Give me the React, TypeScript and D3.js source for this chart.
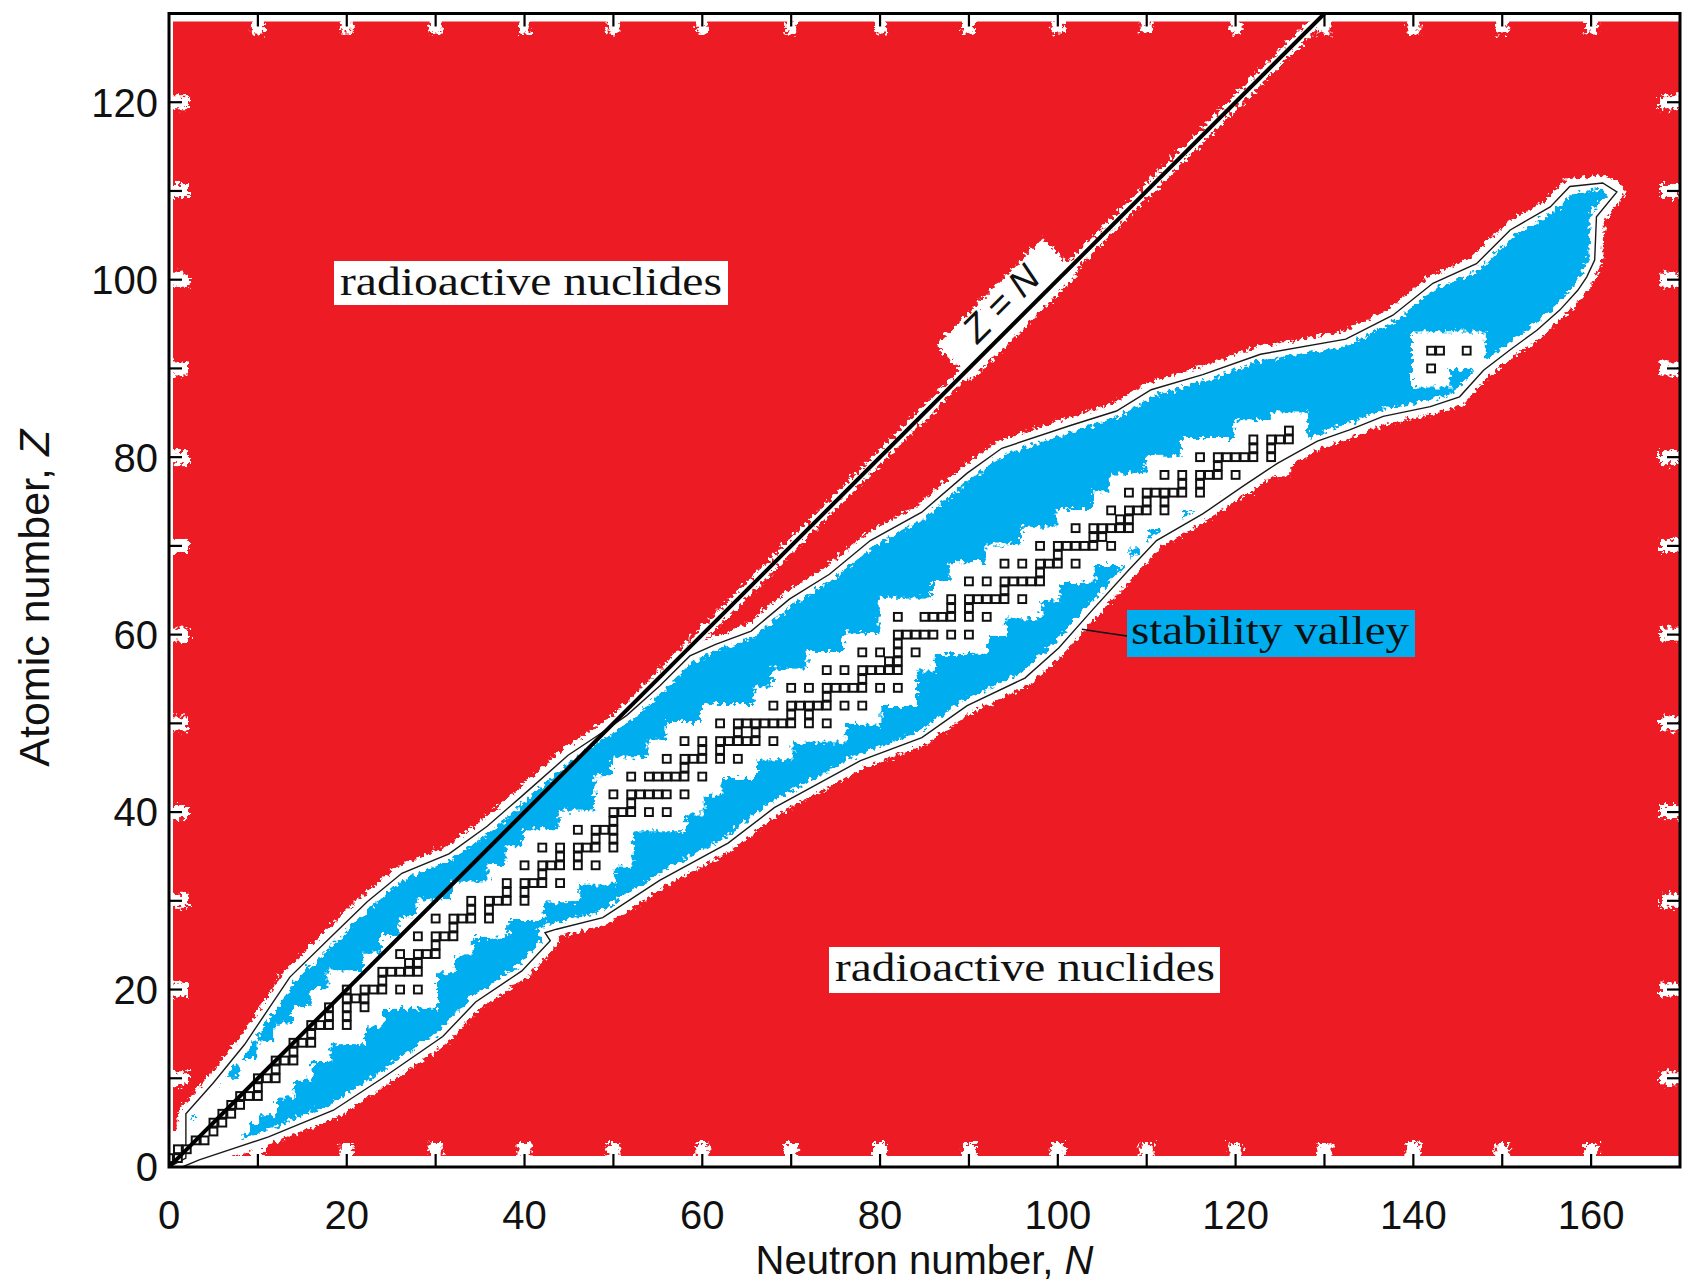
import React from 'react';
import * as d3 from 'd3';

const W = 1683;
const H = 1284;

// Boundary of known nuclides: upper (proton-rich) side, from the origin to the top-right tip
const upperContour: [number, number][] = [
  [0, 0], [1.9, 1], [1.9, 6], [5, 9.5], [8.5, 13.8], [13.6, 21.4], [18.5, 26.2], [22.3, 29.9],
  [26.2, 33.1], [31.5, 35.3], [35.8, 38.4], [39.7, 41.8], [44.9, 46.4], [48.2, 48.6],
  [51.5, 50.9], [55.2, 54.2], [58.6, 57.6], [61.5, 58.9], [65.5, 60.4], [69.8, 64],
  [74.3, 66.8], [78.9, 70.6], [84.7, 73.8], [89.8, 78.2], [93.7, 81], [101.5, 83.6],
  [106.6, 85.2], [110.5, 87.6], [116.3, 89.3], [122.8, 91.6], [132.4, 93.3], [137.7, 96],
  [142.2, 99.6], [147.1, 101.8], [150.9, 105.6], [155.4, 108.2], [157.6, 110.5],
  [161.3, 110.9], [162.9, 109.9],
];

// Lower (neutron-rich) side, from the top-right tip back to the origin
const lowerContour: [number, number][] = [
  [160.6, 107.1], [160.4, 102.2], [159.5, 100.3], [158.5, 98.8], [156.5, 96.6], [153.9, 94.3],
  [150.9, 92.1], [147.9, 89.8], [145.2, 86.8], [141.9, 85.7], [136.6, 84.6], [132.9, 83.1],
  [129.2, 81.8], [124.7, 79.3], [120.8, 76.7], [116.3, 73.6], [111.1, 70.6], [107.9, 67.2],
  [104, 62.9], [100.1, 58.5], [96.3, 55.1], [89.8, 52], [84.7, 48.4], [77.8, 45.8],
  [68.1, 40.5], [62.9, 36.5], [55.2, 32.3], [48.8, 28.1], [43.6, 26.8], [42.3, 26.4],
  [42.9, 25.5], [39.7, 22.1], [34.5, 18.6], [30.8, 14.7], [24, 10], [18.5, 6.4],
  [11.2, 3.4], [3.4, 0.8], [1.5, 0],
];

// Stable (and long-lived natural) nuclides: [Z, neutron numbers]
const stableNuclides: [number, number[]][] = [
  [1, [0, 1]], [2, [1, 2]], [3, [3, 4]], [4, [5]], [5, [5, 6]], [6, [6, 7]], [7, [7, 8]],
  [8, [8, 9, 10]], [9, [10]], [10, [10, 11, 12]], [11, [12]], [12, [12, 13, 14]], [13, [14]],
  [14, [14, 15, 16]], [15, [16]], [16, [16, 17, 18, 20]], [17, [18, 20]], [18, [18, 20, 22]],
  [19, [20, 21, 22]], [20, [20, 22, 23, 24, 26, 28]], [21, [24]], [22, [24, 25, 26, 27, 28]],
  [23, [27, 28]], [24, [26, 28, 29, 30]], [25, [30]], [26, [28, 30, 31, 32]], [27, [32]],
  [28, [30, 32, 33, 34, 36]], [29, [34, 36]], [30, [34, 36, 37, 38, 40]], [31, [38, 40]],
  [32, [38, 40, 41, 42, 44]], [33, [42]], [34, [40, 42, 43, 44, 46, 48]], [35, [44, 46]],
  [36, [42, 44, 46, 47, 48, 50]], [37, [48, 50]], [38, [46, 48, 49, 50]], [39, [50]],
  [40, [50, 51, 52, 54, 56]], [41, [52]], [42, [50, 52, 53, 54, 55, 56, 58]],
  [44, [52, 54, 55, 56, 57, 58, 60]], [45, [58]], [46, [56, 58, 59, 60, 62, 64]],
  [47, [60, 62]], [48, [58, 60, 62, 63, 64, 65, 66, 68]], [49, [64, 66]],
  [50, [62, 64, 65, 66, 67, 68, 69, 70, 72, 74]], [51, [70, 72]],
  [52, [68, 70, 71, 72, 73, 74, 76, 78]], [53, [74]], [54, [70, 72, 74, 75, 76, 77, 78, 80, 82]],
  [55, [78]], [56, [74, 76, 78, 79, 80, 81, 82]], [57, [81, 82]], [58, [78, 80, 82, 84]],
  [59, [82]], [60, [82, 83, 84, 85, 86, 88, 90]], [62, [82, 85, 86, 87, 88, 90, 92]],
  [63, [88, 90]], [64, [88, 90, 91, 92, 93, 94, 96]], [65, [94]],
  [66, [90, 92, 94, 95, 96, 97, 98]], [67, [98]], [68, [94, 96, 98, 99, 100, 102]], [69, [100]],
  [70, [98, 100, 101, 102, 103, 104, 106]], [71, [104, 105]], [72, [102, 104, 105, 106, 107, 108]],
  [73, [107, 108]], [74, [106, 108, 109, 110, 112]], [75, [110, 112]],
  [76, [108, 110, 111, 112, 113, 114, 116]], [77, [114, 116]], [78, [112, 114, 116, 117, 118, 120]],
  [79, [118]], [80, [116, 118, 119, 120, 121, 122, 124]], [81, [122, 124]],
  [82, [122, 124, 125, 126]], [83, [126]], [90, [142]], [92, [142, 143, 146]],
];

const xTicks = d3.range(0, 170, 10);
const yTicks = d3.range(0, 130, 10);
const xTickLabels = [0, 20, 40, 60, 80, 100, 120, 140, 160];
const yTickLabels = [0, 20, 40, 60, 80, 100, 120];

const RED = '#ED1C24';
const BLUE = '#00AEEF';
const SANS = '"Liberation Sans", Arial, Helvetica, sans-serif';
const SERIF = '"Liberation Serif", "Times New Roman", serif';

export default function App() {
  const x = d3.scaleLinear().domain([0, 170]).range([169, 1680]);
  const y = d3.scaleLinear().domain([0, 130]).range([1167, 13.5]);
  const line = d3.line<[number, number]>().x((d) => x(d[0])).y((d) => y(d[1]));
  const contourPath = line([...upperContour, ...lowerContour]) + 'Z';
  const stable = stableNuclides.flatMap(([z, ns]) => ns.map((n) => [n, z] as [number, number]));
  const cellW = x(1) - x(0);
  const cellH = y(0) - y(1);
  const sq = 0.88 * cellW;
  const band = 4.3;

  const left = x(0), right = x(170), top = y(130), bottom = y(0);
  const angle = (-Math.atan2(cellH, cellW) * 180) / Math.PI;
  const lblX = x(93.6), lblY = y(97.3);

  return (
    <svg width={W} height={H} style={{ position: 'absolute', left: 0, top: 0, background: '#fff' }}>
      <defs>
        <filter id="rough" filterUnits="userSpaceOnUse" x={0} y={0} width={W} height={H}>
          <feTurbulence type="fractalNoise" baseFrequency="0.25" numOctaves={2} seed={4} result="noise" />
          <feDisplacementMap in="SourceGraphic" in2="noise" scale={13} xChannelSelector="R" yChannelSelector="G" />
        </filter>
        <filter id="rough2" filterUnits="userSpaceOnUse" x={0} y={0} width={W} height={H}>
          <feTurbulence type="fractalNoise" baseFrequency="0.22" numOctaves={2} seed={9} result="noise" />
          <feDisplacementMap in="SourceGraphic" in2="noise" scale={12} xChannelSelector="R" yChannelSelector="G" />
        </filter>
        <clipPath id="plotClip">
          <rect x={left} y={top} width={right - left} height={bottom - top} />
        </clipPath>
      </defs>

      {/* red background of radioactive nuclides */}
      <rect x={left + 4} y={top + 8} width={right - left - 5} height={bottom - top - 19} fill={RED} />

      <g clipPath="url(#plotClip)">
        {/* outer white fringe */}
        <g filter="url(#rough)">
          <path d={contourPath} fill="#fff" stroke="#fff" strokeWidth={15} strokeLinejoin="round" />
          <line x1={x(0)} y1={y(0)} x2={x(130)} y2={y(130)} stroke="#fff" strokeWidth={11} />
          <rect x={-76} y={-25} width={152} height={50} fill="#fff"
            transform={`translate(${lblX + 6},${lblY + 6}) rotate(${angle})`} />
          {xTicks.filter((t) => t > 0).map((t) => (
            <g key={'xh' + t}>
              <rect x={x(t) - 7} y={bottom - 24} width={14} height={24} fill="#fff" />
              <rect x={x(t) - 6} y={top} width={12} height={20} fill="#fff" />
            </g>
          ))}
          {yTicks.filter((t) => t > 0).map((t) => (
            <g key={'yh' + t}>
              <rect x={left} y={y(t) - 7} width={20} height={14} fill="#fff" />
              <rect x={right - 20} y={y(t) - 7} width={20} height={14} fill="#fff" />
            </g>
          ))}
        </g>

        {/* blue: known radioactive nuclides */}
        <path d={contourPath} fill={BLUE} />

        {/* inner white fringe and white band around stable nuclides */}
        <g filter="url(#rough2)">
          <path d={contourPath} fill="none" stroke="#fff" strokeWidth={13} strokeLinejoin="round" />
          {stable.map(([n, z], i) => (
            <rect key={'b' + i} x={x(n - band / 2)} y={y(z + band / 2)} width={band * cellW} height={band * cellH} fill="#fff" />
          ))}
        </g>

        {/* contour line */}
        <path d={contourPath} fill="none" stroke="#1a1a1a" strokeWidth={1.4} />

        {/* stable nuclides */}
        {stable.map(([n, z], i) => (
          <rect key={'s' + i} x={x(n) - sq / 2} y={y(z) - sq / 2} width={sq} height={sq}
            fill="#fff" stroke="#111" strokeWidth={2} />
        ))}

        {/* Z = N line */}
        <line x1={x(0)} y1={y(0)} x2={x(130)} y2={y(130)} stroke="#000" strokeWidth={4} />
        <text x={lblX} y={lblY} transform={`rotate(${angle},${lblX},${lblY})`} textAnchor="middle"
          dominantBaseline="central" fontFamily={SANS} fontStyle="italic" fontSize={37} fill="#111">
          Z = N
        </text>
      </g>

      {/* labels */}
      <rect x={334} y={261} width={394} height={44} fill="#fff" />
      <text x={340} y={295} fontFamily={SERIF} fontSize={40} textLength={382} lengthAdjust="spacingAndGlyphs" fill="#111">
        radioactive nuclides
      </text>
      <rect x={829} y={947} width={391} height={46} fill="#fff" />
      <text x={835} y={981} fontFamily={SERIF} fontSize={40} textLength={380} lengthAdjust="spacingAndGlyphs" fill="#111">
        radioactive nuclides
      </text>
      <polyline points={`${x(102.7)},${y(60.6)} ${x(104.7)},${y(60.3)} ${1127},${636}`} fill="none" stroke="#111" strokeWidth={1.5} />
      <rect x={1127} y={610} width={288} height={47} fill={BLUE} />
      <text x={1131} y={644} fontFamily={SERIF} fontSize={40} textLength={278} lengthAdjust="spacingAndGlyphs" fill="#111">
        stability valley
      </text>

      {/* frame */}
      <rect x={left} y={top} width={right - left} height={bottom - top} fill="none" stroke="#000" strokeWidth={3} />
      {xTicks.filter((t) => t > 0).map((t) => (
        <g key={'xt' + t}>
          <line x1={x(t)} x2={x(t)} y1={bottom} y2={bottom - 13} stroke="#000" strokeWidth={2.2} />
          <line x1={x(t)} x2={x(t)} y1={top} y2={top + 13} stroke="#000" strokeWidth={2.2} />
        </g>
      ))}
      {yTicks.filter((t) => t > 0).map((t) => (
        <g key={'yt' + t}>
          <line x1={left} x2={left + 13} y1={y(t)} y2={y(t)} stroke="#000" strokeWidth={2.2} />
          <line x1={right} x2={right - 13} y1={y(t)} y2={y(t)} stroke="#000" strokeWidth={2.2} />
        </g>
      ))}

      {/* tick labels */}
      {xTickLabels.map((t) => (
        <text key={'xl' + t} x={x(t)} y={1229} textAnchor="middle" fontFamily={SANS} fontSize={40} fill="#111">{t}</text>
      ))}
      {yTickLabels.map((t) => (
        <text key={'yl' + t} x={158} y={y(t)} dy="0.36em" textAnchor="end" fontFamily={SANS} fontSize={40} fill="#111">{t}</text>
      ))}

      {/* axis titles */}
      <text x={(left + right) / 2} y={1274} textAnchor="middle" fontFamily={SANS} fontSize={40} fill="#111">
        Neutron number, <tspan fontStyle="italic">N</tspan>
      </text>
      <text transform={`translate(49,${(top + bottom) / 2 + 8}) rotate(-90)`} textAnchor="middle" fontFamily={SANS} fontSize={43} fill="#111">
        Atomic number, <tspan fontStyle="italic">Z</tspan>
      </text>
    </svg>
  );
}
